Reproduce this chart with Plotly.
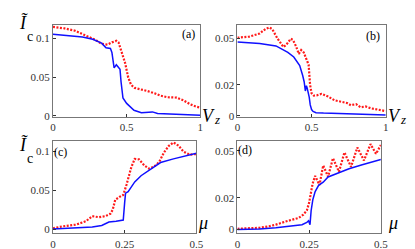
import plotly.graph_objects as go

# ---------------- data ----------------
a_blue_x = [0, 0.1, 0.2, 0.27, 0.3, 0.33, 0.36, 0.39, 0.40, 0.415, 0.43, 0.445, 0.455, 0.462, 0.475, 0.5, 0.52, 0.55, 0.6, 0.65, 0.675, 0.71, 0.8, 0.85, 0.9, 0.95, 0.985, 1.0]
a_blue_y = [0.1055, 0.104, 0.102, 0.099, 0.097, 0.094, 0.088, 0.087, 0.082, 0.062, 0.066, 0.063, 0.060, 0.044, 0.023, 0.016, 0.012, 0.007, 0.004, 0.0045, 0.005, 0.003, 0.0025, 0.002, 0.0015, 0.001, 0.0015, 0.0008]
a_red_x = [0, 0.08, 0.15, 0.2, 0.25, 0.29, 0.33, 0.37, 0.40, 0.43, 0.445, 0.465, 0.49, 0.51, 0.53, 0.555, 0.6, 0.64, 0.69, 0.73, 0.775, 0.82, 0.84, 0.885, 0.93, 0.97, 1.0]
a_red_y = [0.115, 0.113, 0.110, 0.106, 0.102, 0.098, 0.093, 0.092, 0.095, 0.097, 0.095, 0.084, 0.068, 0.050, 0.040, 0.036, 0.034, 0.032, 0.029, 0.026, 0.024, 0.023, 0.0235, 0.020, 0.015, 0.012, 0.0105]

b_blue_x = [0, 0.15, 0.26, 0.3, 0.34, 0.38, 0.4, 0.42, 0.44, 0.45, 0.458, 0.465, 0.47, 0.476, 0.484, 0.491, 0.5, 0.51, 0.53, 0.58, 0.7, 0.81, 0.9, 1.0]
b_blue_y = [0.0477, 0.0468, 0.0452, 0.0432, 0.041, 0.038, 0.035, 0.0325, 0.026, 0.022, 0.016, 0.0195, 0.018, 0.0156, 0.012, 0.007, 0.004, 0.0028, 0.002, 0.0017, 0.0012, 0.0009, 0.0007, 0.0004]
b_red_x = [0, 0.08, 0.15, 0.19, 0.215, 0.235, 0.27, 0.31, 0.33, 0.36, 0.375, 0.395, 0.414, 0.43, 0.447, 0.458, 0.47, 0.48, 0.49, 0.5, 0.515, 0.535, 0.567, 0.61, 0.655, 0.7, 0.74, 0.765, 0.8, 0.83, 0.865, 0.9, 0.94, 0.97, 1.0]
b_red_y = [0.0505, 0.0512, 0.0532, 0.0562, 0.0572, 0.056, 0.050, 0.0445, 0.046, 0.0498, 0.049, 0.045, 0.040, 0.0425, 0.041, 0.038, 0.0355, 0.033, 0.020, 0.0145, 0.013, 0.0132, 0.0142, 0.0125, 0.0100, 0.0092, 0.0082, 0.0068, 0.0075, 0.0055, 0.006, 0.0048, 0.004, 0.0035, 0.003]

c_blue_x = [0, 0.08, 0.137, 0.17, 0.185, 0.195, 0.22, 0.245, 0.25, 0.253, 0.262, 0.285, 0.307, 0.341, 0.375, 0.42, 0.466, 0.5]
c_blue_y = [0.0004, 0.002, 0.003, 0.005, 0.008, 0.0095, 0.0105, 0.012, 0.035, 0.0465, 0.0485, 0.061, 0.069, 0.078, 0.086, 0.0907, 0.095, 0.098]
c_red_x = [0, 0.035, 0.08, 0.115, 0.137, 0.16, 0.183, 0.2, 0.208, 0.217, 0.233, 0.245, 0.256, 0.273, 0.285, 0.3, 0.319, 0.336, 0.353, 0.37, 0.387, 0.404, 0.42, 0.438, 0.455, 0.477, 0.5]
c_red_y = [0.0013, 0.004, 0.006, 0.0105, 0.017, 0.0156, 0.017, 0.020, 0.025, 0.038, 0.042, 0.0443, 0.057, 0.080, 0.0907, 0.090, 0.082, 0.078, 0.081, 0.0865, 0.099, 0.1076, 0.1118, 0.1076, 0.100, 0.096, 0.097]

d_blue_x = [0, 0.077, 0.134, 0.19, 0.225, 0.242, 0.248, 0.253, 0.257, 0.263, 0.271, 0.283, 0.299, 0.316, 0.344, 0.389, 0.435, 0.5]
d_blue_y = [0, 0.0003, 0.001, 0.002, 0.003, 0.0045, 0.0055, 0.003, 0.012, 0.019, 0.024, 0.028, 0.030, 0.0333, 0.0354, 0.0385, 0.041, 0.0444]
d_red_x = [0, 0.077, 0.111, 0.134, 0.168, 0.19, 0.214, 0.23, 0.242, 0.25, 0.256, 0.262, 0.271, 0.286, 0.299, 0.316, 0.333, 0.354, 0.373, 0.396, 0.418, 0.441, 0.464, 0.483, 0.5]
d_red_y = [0.0004, 0.001, 0.002, 0.003, 0.005, 0.006, 0.0073, 0.0094, 0.012, 0.017, 0.023, 0.029, 0.034, 0.0281, 0.0406, 0.0335, 0.0452, 0.0366, 0.0489, 0.0397, 0.052, 0.0438, 0.0542, 0.048, 0.0536]

x_ticks_V = [0, 0.5, 1]
x_tick_V_text = ["0", "0.5", "1"]
x_ticks_mu = [0, 0.25, 0.5]
x_tick_mu_text = ["0", "0.25", "0.5"]
y_ticks_ac = [0, 0.05, 0.1]
y_tick_ac_text = ["0", "0.05", "0.1"]
y_ticks_bd = [0, 0.02, 0.05]
y_tick_bd_text = ["0", "0.02", "0.05"]

panel_labels = ["(a)", "(b)", "(c)", "(d)"]

# ---------------- figure ----------------
W, H = 415, 249
SERIF = "Liberation Serif"
BLUE = "#1010ff"
RED = "#ff1a1a"

fig = go.Figure()

panels = [
    (a_blue_x, a_blue_y, a_red_x, a_red_y),
    (b_blue_x, b_blue_y, b_red_x, b_red_y),
    (c_blue_x, c_blue_y, c_red_x, c_red_y),
    (d_blue_x, d_blue_y, d_red_x, d_red_y),
]
for i, (bx, by, rx, ry) in enumerate(panels):
    suf = "" if i == 0 else str(i + 1)
    fig.add_trace(go.Scatter(x=rx, y=ry, mode="lines", xaxis="x" + suf, yaxis="y" + suf,
                             line=dict(color=RED, width=2.2, dash="2px,1.5px"), showlegend=False))
    fig.add_trace(go.Scatter(x=bx, y=by, mode="lines", xaxis="x" + suf, yaxis="y" + suf,
                             line=dict(color=BLUE, width=1.5), showlegend=False))

def px_dom(a, b, total, flip=False):
    if flip:
        return [1 - b / total, 1 - a / total]
    return [a / total, b / total]

# pixel boxes (left, right, top, bottom)
boxes = [(43, 194, 17, 111), (232, 384, 17, 111), (43, 190, 135, 229), (232, 379, 135, 229)]
xranges = [[0, 1], [0, 1], [0, 0.5], [0, 0.5]]
yranges = [[-0.0019, 0.1178], [-0.00096, 0.0589], [-0.0051, 0.1139], [-0.0025, 0.05625]]
xt = [(x_ticks_V, x_tick_V_text), (x_ticks_V, x_tick_V_text), (x_ticks_mu, x_tick_mu_text), (x_ticks_mu, x_tick_mu_text)]
yt = [(y_ticks_ac, y_tick_ac_text), (y_ticks_bd, y_tick_bd_text), (y_ticks_ac, y_tick_ac_text), (y_ticks_bd, y_tick_bd_text)]

axis_common = dict(showline=True, mirror=True, linecolor="#777777", linewidth=1,
                   ticks="inside", ticklen=3, tickcolor="#333333", tickwidth=1,
                   showgrid=False, zeroline=False,
                   tickfont=dict(family=SERIF, size=11, color="#333333"))

layout = {}
for i in range(4):
    suf = "" if i == 0 else str(i + 1)
    l, r, t, b = boxes[i]
    layout["xaxis" + suf] = dict(axis_common, domain=px_dom(l, r, W), range=xranges[i],
                                 anchor="y" + suf, tickvals=xt[i][0], ticktext=xt[i][1])
    layout["yaxis" + suf] = dict(axis_common, domain=px_dom(t, b, H, flip=True), range=yranges[i],
                                 anchor="x" + suf, tickvals=yt[i][0], ticktext=yt[i][1])

fig.update_layout(width=W, height=H, margin=dict(l=0, r=0, t=0, b=0),
                  paper_bgcolor="white", plot_bgcolor="white",
                  font=dict(family=SERIF), **layout)

def ann(x, y, text, size, xanchor="center", yanchor="middle"):
    fig.add_annotation(x=x / W, y=1 - y / H, xref="paper", yref="paper", text=text,
                       showarrow=False, xanchor=xanchor, yanchor=yanchor,
                       font=dict(family=SERIF, size=size, color="black"))

# axis titles
for (xi, yi) in [(13, 15), (13, 139)]:
    ann(xi, yi, "<i>Ĩ</i>", 18)
    ann(xi + 6, yi + 14, "c", 14)
for (xi, yi) in [(202, 110), (393, 110)]:
    ann(xi, yi, "<i>V</i>", 18)
    ann(xi + 9, yi + 3, "<i>z</i>", 13)
ann(197, 219, "<i>μ</i>", 18)
ann(391, 219, "<i>μ</i>", 18)

# panel labels
ann(182, 26, panel_labels[0], 12)
ann(371, 28, panel_labels[1], 12)
ann(51, 146, panel_labels[2], 12)
ann(240, 144, panel_labels[3], 12)

fig.write_html("out.html")
